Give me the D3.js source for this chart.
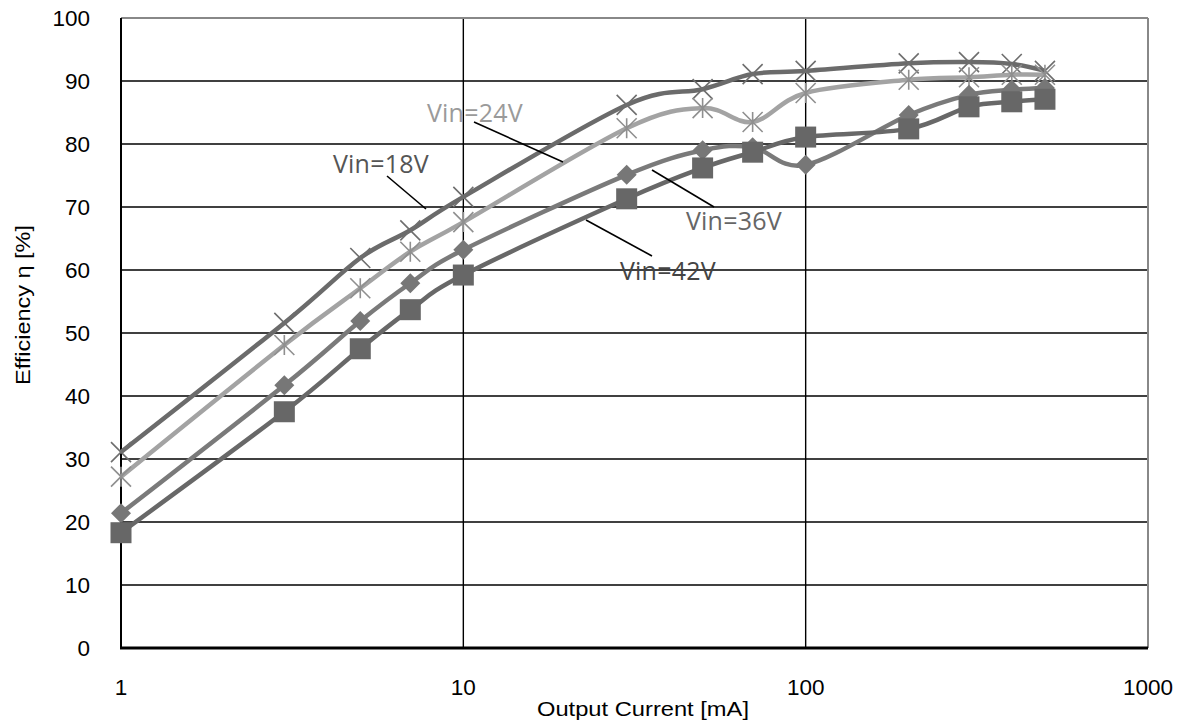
<!DOCTYPE html>
<html><head><meta charset="utf-8">
<script src="https://cdn.jsdelivr.net/npm/d3@7"></script>
<style>body{margin:0;background:#fff}svg{display:block}</style>
</head><body>
<svg id="c" width="1184" height="724"></svg>
<script>
const current = [1, 3, 5, 7, 10, 30, 50, 70, 100, 200, 300, 400, 500];
const vin18 = [31.1, 51.6, 61.9, 66.3, 71.6, 86.2, 88.7, 91.1, 91.6, 92.8, 93.0, 92.7, 91.6];
const vin24 = [27.2, 48.1, 57.1, 62.9, 67.6, 82.5, 85.7, 83.5, 88.1, 90.2, 90.6, 91.0, 91.0];
const vin36 = [21.4, 41.7, 51.9, 57.9, 63.2, 75.1, 79.0, 79.5, 76.7, 84.6, 87.8, 88.6, 88.9];
const vin42 = [18.3, 37.5, 47.5, 53.7, 59.2, 71.3, 76.2, 78.7, 81.1, 82.4, 85.9, 86.7, 87.1];
const xTicks = [1, 10, 100, 1000];
const yTicks = [0, 10, 20, 30, 40, 50, 60, 70, 80, 90, 100];
const seriesNames = ["Vin=18V", "Vin=24V", "Vin=36V", "Vin=42V"];

const svg = d3.select("#c");
const L = 121, R = 1148, T = 18, B = 648;
const x = d3.scaleLog().domain([1, 1000]).range([L, R]);
const y = d3.scaleLinear().domain([0, 100]).range([B, T]);

// grid
svg.append("g").selectAll("line").data(yTicks.filter(d => d > 0 && d < 100)).join("line")
  .attr("x1", L).attr("x2", R).attr("y1", d => y(d)).attr("y2", d => y(d))
  .attr("stroke", "#000").attr("stroke-width", 1.6);
svg.append("g").selectAll("line").data(xTicks.filter(d => d > 1 && d < 1000)).join("line")
  .attr("x1", d => x(d)).attr("x2", d => x(d)).attr("y1", T).attr("y2", B)
  .attr("stroke", "#000").attr("stroke-width", 1.4);
// border
svg.append("line").attr("x1", L).attr("x2", R).attr("y1", T).attr("y2", T).attr("stroke", "#888").attr("stroke-width", 2);
svg.append("line").attr("x1", R).attr("x2", R).attr("y1", T).attr("y2", B).attr("stroke", "#888").attr("stroke-width", 2);
svg.append("line").attr("x1", L).attr("x2", L).attr("y1", T).attr("y2", B).attr("stroke", "#000").attr("stroke-width", 2);
svg.append("line").attr("x1", L - 1).attr("x2", R).attr("y1", B).attr("y2", B).attr("stroke", "#000").attr("stroke-width", 3);

const AX = "Liberation Sans, Arial, sans-serif";
// y axis labels
svg.append("g").selectAll("text").data(yTicks).join("text")
  .attr("x", 90).attr("y", d => y(d)).attr("dy", "0.36em").attr("text-anchor", "end")
  .attr("font-family", AX).attr("font-size", 22.5).attr("fill", "#000")
  .text(d => d);
// x axis labels
svg.append("g").selectAll("text").data(xTicks).join("text")
  .attr("x", d => x(d)).attr("y", 695).attr("text-anchor", "middle")
  .attr("font-family", AX).attr("font-size", 22.5).attr("fill", "#000")
  .text(d => d);
svg.append("text").attr("x", 643).attr("y", 716).attr("text-anchor", "middle")
  .attr("font-family", AX).attr("font-size", 20.5).attr("textLength", 212).attr("lengthAdjust", "spacingAndGlyphs")
  .text("Output Current [mA]");
svg.append("text").attr("transform", "translate(30,305) rotate(-90)").attr("text-anchor", "middle")
  .attr("font-family", AX).attr("font-size", 20.5).attr("textLength", 160).attr("lengthAdjust", "spacingAndGlyphs")
  .text("Efficiency η [%]");

const series = [
  {name: seriesNames[0], vals: vin18, color: "#6b6b6b", mk: "x", mcolor: "#6e6e6e"},
  {name: seriesNames[1], vals: vin24, color: "#a3a3a3", mk: "star", mcolor: "#8f8f8f"},
  {name: seriesNames[2], vals: vin36, color: "#7a7a7a", mk: "diamond", mcolor: "#777"},
  {name: seriesNames[3], vals: vin42, color: "#686868", mk: "square", mcolor: "#676767"}
];
const line = d3.line().x(d => x(d[0])).y(d => y(d[1])).curve(d3.curveCardinal.tension(0));

series.forEach(s => {
  const pts = current.map((c, i) => [c, s.vals[i]]);
  const g = svg.append("g");
  g.append("path").attr("d", line(pts)).attr("fill", "none").attr("stroke", s.color).attr("stroke-width", 4.5);
  const m = g.selectAll("g").data(pts).join("g").attr("transform", d => `translate(${x(d[0])},${y(d[1])})`);
  if (s.mk === "x" || s.mk === "star") {
    const h = 10;
    m.append("path").attr("d", `M${-h},${-h}L${h},${h}M${-h},${h}L${h},${-h}` + (s.mk === "star" ? `M0,${-h}L0,${h}` : ""))
      .attr("stroke", s.mcolor).attr("stroke-width", 1.6).attr("fill", "none");
  } else if (s.mk === "diamond") {
    m.append("path").attr("d", "M0,-10L10,0L0,10L-10,0Z").attr("fill", s.mcolor);
  } else {
    m.append("rect").attr("x", -10.5).attr("y", -10.5).attr("width", 21).attr("height", 21).attr("fill", s.mcolor);
  }
});

// annotations
const labels = [
  {t: seriesNames[0], x: 333, y: 173, c: "#555", lx1: 387, ly1: 176, lx2: 426, ly2: 209},
  {t: seriesNames[1], x: 427, y: 122, c: "#9a9a9a", lx1: 474, ly1: 122, lx2: 563, ly2: 162},
  {t: seriesNames[2], x: 686, y: 230, c: "#666", lx1: 652, ly1: 170, lx2: 714, ly2: 207},
  {t: seriesNames[3], x: 620, y: 280, c: "#444", lx1: 586, ly1: 220, lx2: 652, ly2: 256}
];
labels.forEach(a => {
  svg.append("text").attr("x", a.x).attr("y", a.y).attr("fill", a.c)
    .attr("font-family", "Open Sans, Noto Sans, sans-serif").attr("font-size", 25).attr("letter-spacing", 0.2).text(a.t);
  svg.append("line").attr("x1", a.lx1).attr("y1", a.ly1).attr("x2", a.lx2).attr("y2", a.ly2)
    .attr("stroke", "#000").attr("stroke-width", 1.6);
});
</script>
</body></html>
